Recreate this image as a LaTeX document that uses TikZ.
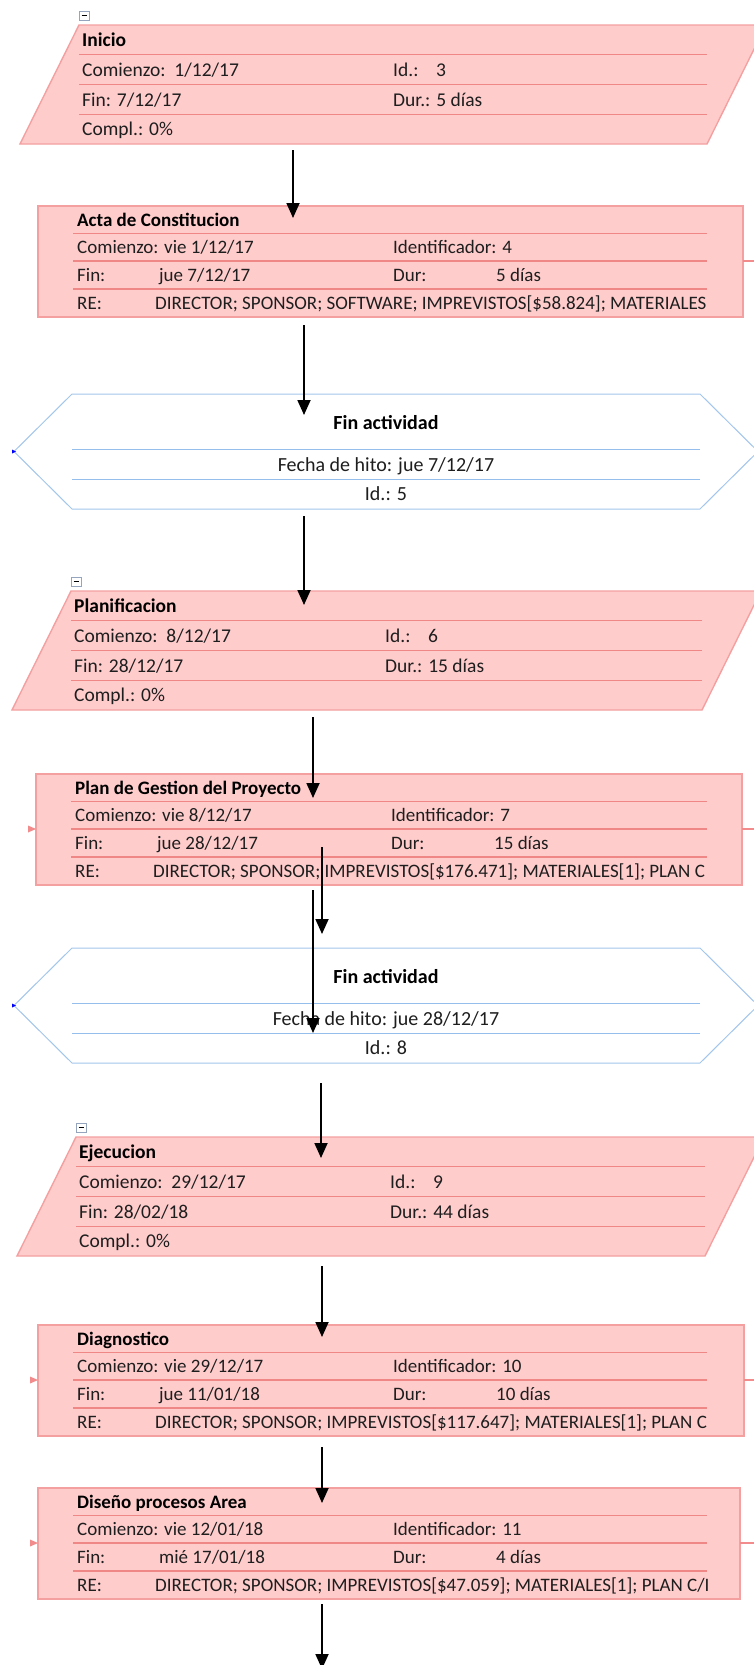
\documentclass[tikz,border=0pt]{standalone}
\usepackage{fontspec}
\setmainfont{Carlito}
\usetikzlibrary{arrows.meta,calc}

\definecolor{taskfill}{RGB}{255,204,204}
\definecolor{taskedge}{RGB}{244,160,160}
\definecolor{taskrule}{RGB}{240,135,135}
\definecolor{mileedge}{RGB}{163,198,236}
\definecolor{milerule}{RGB}{150,190,236}
\definecolor{linkred}{RGB}{242,140,140}
\definecolor{textdark}{RGB}{30,30,30}
\definecolor{boxgray}{RGB}{150,165,190}

\tikzset{
  frame/.style={inner sep=0pt, outer sep=0pt, anchor=north west},
  partxt/.style={inner sep=0pt, anchor=west, text height=12.3pt, text depth=0pt,
    text=textdark, font=\fontsize{19.5}{22}\selectfont},
  partitle/.style={partxt, text=black, font=\fontsize{19.5}{22}\selectfont\bfseries},
  recttxt/.style={inner sep=0pt, anchor=west, text height=12pt, text depth=0pt,
    text=textdark, font=\fontsize{19}{22}\selectfont},
  recttitle/.style={recttxt, text=black, font=\fontsize{19}{22}\selectfont\bfseries},
  miletxt/.style={inner sep=0pt, anchor=center, text height=12.6pt, text depth=0pt,
    text=textdark, font=\fontsize{20}{23}\selectfont},
  miletitle/.style={miletxt, text=black, font=\fontsize{20}{23}\selectfont\bfseries},
  link/.style={draw=black, line width=1.8pt, -{Triangle[width=13pt,length=15pt]}},
}

% summary task: slanted box (name, top, bottom-left x, bottom-right x)
\newcommand\taskpar[4]{%
  \pgfmathsetmacro\pTL{#3+59}%
  \pgfmathsetmacro\pTR{#4+59}%
  \pgfmathsetmacro\pBT{#2+119}%
  \pgfmathsetmacro\pW{#4+59-#3}%
  \fill[taskfill] (\pTL,#2) -- (\pTR,#2) -- (#4,\pBT) -- (#3,\pBT) -- cycle;
  \foreach \rr in {29.5,59.5,89.5}
    \draw[taskrule, line width=1.4pt] (\pTL,#2+\rr) -- (#4,#2+\rr);
  \draw[taskedge, line width=1.4pt] (\pTL,#2) -- (\pTR,#2) -- (#4,\pBT) -- (#3,\pBT) -- cycle;
  \node[frame, minimum width=\pW pt, minimum height=119pt] (#1) at (#3,#2) {};
  \draw[boxgray, fill=white, line width=0.8pt] (\pTL,#2-14) rectangle (\pTL+10,#2-5);
  \draw[black, line width=1pt] (\pTL+2.5,#2-9.5) -- (\pTL+7.5,#2-9.5);
}
% summary task fields (name, title, start, id, finish, duration)
\newcommand\parrows[6]{%
  \node[partitle] at ([shift={(62,15.5)}]#1.north west) {#2};
  \node[partxt] at ([shift={(62,45)}]#1.north west) {Comienzo:\ \ #3};
  \node[partxt] at ([shift={(373,45)}]#1.north west) {Id.:\hspace{0.9em}#4};
  \node[partxt] at ([shift={(62,75)}]#1.north west) {Fin: #5};
  \node[partxt] at ([shift={(373,75)}]#1.north west) {Dur.: #6};
  \node[partxt] at ([shift={(62,104.5)}]#1.north west) {Compl.: 0\%};
}
% ordinary task box (name, left, top, right, left link marker 1/0)
\newcommand\taskrect[5]{%
  \pgfmathsetmacro\rW{#4-#2}%
  \fill[taskfill] (#2,#3) rectangle (#4,#3+111);
  \foreach \rr in {27.5,55,83}
    \draw[taskrule, line width=1.4pt] (#2+35,#3+\rr) -- (707,#3+\rr);
  \draw[taskedge, line width=1.4pt] (#2,#3) rectangle (#4,#3+111);
  \node[frame, minimum width=\rW pt, minimum height=111pt] (#1) at (#2,#3) {};
  \draw[linkred, line width=1.4pt] (#4,#3+55) -- (754,#3+55);
  \ifnum#5=1 \fill[linkred] (#2-8,#3+51.5) -- (#2,#3+55) -- (#2-8,#3+58.5) -- cycle;\fi
}
% ordinary task fields (name, title, start, id, finish, duration, resources)
\newcommand\rectrows[7]{%
  \node[recttitle] at ([shift={(39,14)}]#1.north west) {#2};
  \node[recttxt] at ([shift={(39,41.5)}]#1.north west) {Comienzo: #3};
  \node[recttxt] at ([shift={(355,41.5)}]#1.north west) {Identificador: #4};
  \node[recttxt] at ([shift={(39,69.5)}]#1.north west) {Fin:};
  \node[recttxt] at ([shift={(121,69.5)}]#1.north west) {#5};
  \node[recttxt] at ([shift={(355,69.5)}]#1.north west) {Dur:};
  \node[recttxt] at ([shift={(458,69.5)}]#1.north west) {#6};
  \node[recttxt] at ([shift={(39,97)}]#1.north west) {RE:};
  \begin{scope}
    \clip ([shift={(100,84)}]#1.north west) rectangle (#1.south -| cliplimit);
    \node[recttxt] at ([shift={(117,97)}]#1.north west) {#7};
  \end{scope}
}
% milestone hexagon (name, top, date, id)
\newcommand\milestone[4]{%
  \path[draw=mileedge, line width=1pt, fill=white]
    (72,#2) -- (700,#2) -- (758,#2+57.5) -- (700,#2+115) -- (72,#2+115) -- (14,#2+57.5) -- cycle;
  \foreach \rr in {55,85}
    \draw[milerule, line width=1pt] (72,#2+\rr) -- (700,#2+\rr);
  \node[frame, minimum width=744pt, minimum height=115pt] (#1) at (14,#2) {};
  \fill[blue] (12,#2+55.5) -- (16,#2+57.5) -- (12,#2+59.5) -- cycle;
  \node[miletitle] at (386,#2+29) {Fin actividad};
  \node[miletxt] at (386,#2+71) {Fecha de hito: #3};
  \node[miletxt] at (386,#2+100) {Id.: #4};
}

\begin{document}
\begin{tikzpicture}[x=1pt, y=-1pt]
  \useasboundingbox (0,0) rectangle (754,1665);
  \clip (0,0) rectangle (754,1665);
  % right limit of the resource column
  \coordinate (cliplimit) at (707,0);

  \taskpar{inicio}{25}{20}{707}
  \parrows{inicio}{Inicio}{1/12/17}{3}{7/12/17}{5 días}

  \taskrect{acta}{38}{206}{743}{0}
  \rectrows{acta}{Acta de Constitucion}{vie 1/12/17}{4}{jue 7/12/17}{5 días}
    {DIRECTOR; SPONSOR; SOFTWARE; IMPREVISTOS[\$58.824]; MATERIALES}

  \milestone{hito1}{394}{jue 7/12/17}{5}

  \taskpar{planif}{591}{12}{702}
  \parrows{planif}{Planificacion}{8/12/17}{6}{28/12/17}{15 días}

  \taskrect{plangest}{36}{774}{742}{1}
  \rectrows{plangest}{Plan de Gestion del Proyecto}{vie 8/12/17}{7}{jue 28/12/17}{15 días}
    {DIRECTOR; SPONSOR; IMPREVISTOS[\$176.471]; MATERIALES[1]; PLAN C}

  \milestone{hito2}{948}{jue 28/12/17}{8}

  \taskpar{ejec}{1137}{17}{705}
  \parrows{ejec}{Ejecucion}{29/12/17}{9}{28/02/18}{44 días}

  \taskrect{diag}{38}{1325}{744}{1}
  \rectrows{diag}{Diagnostico}{vie 29/12/17}{10}{jue 11/01/18}{10 días}
    {DIRECTOR; SPONSOR; IMPREVISTOS[\$117.647]; MATERIALES[1]; PLAN C}

  \taskrect{diseno}{38}{1488}{740}{1}
  \rectrows{diseno}{Diseño procesos Area}{vie 12/01/18}{11}{mié 17/01/18}{4 días}
    {DIRECTOR; SPONSOR; IMPREVISTOS[\$47.059]; MATERIALES[1]; PLAN C/I}

  % connector columns
  \coordinate (k1) at (293,0);
  \coordinate (k2) at (304,0);
  \coordinate (k4) at (313,0);
  \coordinate (k5) at (322,0);
  \coordinate (k7) at (321,0);
  \coordinate (tail) at (322,1669);

  \draw[link] ($(inicio.south -| k1)+(0,6)$) -- ($(acta.north -| k1)+(0,12)$);
  \draw[link] ($(acta.south -| k2)+(0,8)$) -- ($(hito1.north -| k2)+(0,21)$);
  \draw[link] ($(hito1.south -| k2)+(0,7)$) -- ($(planif.north -| k2)+(0,14)$);
  \draw[link] ($(planif.south -| k4)+(0,7)$) -- ($(plangest.north -| k4)+(0,24)$);
  \draw[link] ($(plangest.north -| k5)+(0,73)$) -- ($(hito2.north -| k5)+(0,-14)$);
  \draw[link] ($(plangest.south -| k4)+(0,5)$) -- ($(hito2.north -| k4)+(0,85)$);
  \draw[link] ($(hito2.south -| k7)+(0,20)$) -- ($(ejec.north -| k7)+(0,21)$);
  \draw[link] ($(ejec.south -| k5)+(0,10)$) -- ($(diag.north -| k5)+(0,12)$);
  \draw[link] ($(diag.south -| k5)+(0,11)$) -- ($(diseno.north -| k5)+(0,15)$);
  \draw[link] ($(diseno.south -| k5)+(0,5)$) -- (tail);
\end{tikzpicture}
\end{document}
